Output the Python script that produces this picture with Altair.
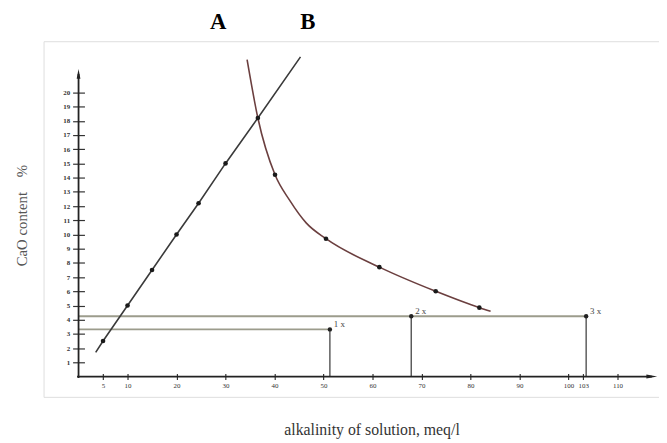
import altair as alt
import pandas as pd

# ---- data ----
# straight line A (ends + measured points)
a_line_x = [3.5, 5, 10, 15, 20, 24.5, 30, 36.6, 45.3]
a_line_y = [1.7, 2.5, 5.0, 7.5, 10.0, 12.2, 15.0, 18.2, 22.5]
a_dot_x = [5, 10, 15, 20, 24.5, 30, 36.6]
a_dot_y = [2.5, 5.0, 7.5, 10.0, 12.2, 15.0, 18.2]

# curve B
b_line_x = [34.4, 36.6, 40.1, 43.1, 46.5, 50.5, 61.4, 72.9, 81.8, 84.1]
b_line_y = [22.3, 18.2, 14.2, 12.4, 10.8, 9.7, 7.7, 6.0, 4.85, 4.6]
b_dot_x = [40.1, 50.5, 61.4, 72.9, 81.8]
b_dot_y = [14.2, 9.7, 7.7, 6.0, 4.85]

# construction lines (1x, 2x, 3x)
mark_x = [51.3, 67.9, 103.6]
mark_y = [3.32, 4.25, 4.25]
mark_label = ["1 x", "2 x", "3 x"]

# axis ticks
x_ticks = [5, 10, 20, 30, 40, 50, 60, 70, 80, 90, 100, 103, 110]
y_ticks = list(range(1, 21))

# drawn axis lines with arrows
axis_x_end = 117.0
axis_y_end = 21.3

x_domain = [-7.14, 118.47]
y_domain = [-1.43, 23.6]

SERIF = "Liberation Serif"
BG = "#fefbe0"

xs = alt.Scale(domain=x_domain, nice=False, zero=False)
ys = alt.Scale(domain=y_domain, nice=False, zero=False)

x_axis = alt.Axis(
    values=x_ticks, title="alkalinity of solution, meq/l", domain=False, grid=False,
    offset=-23.6, tickSize=6, tickColor="#333", tickWidth=1.2,
    labelFont=SERIF, labelFontSize=7, labelColor="#333", labelPadding=2,
    labelOverlap=False, labelFlush=False,
    titleFont=SERIF, titleFontSize=16, titleFontWeight="normal", titleColor="#333",
    titleX=332, titlePadding=34,
)
y_axis = alt.Axis(
    values=y_ticks, title="CaO content\u00a0\u00a0\u00a0\u00a0%", domain=False, grid=False,
    offset=-41.4, tickSize=12, tickColor="#333", tickWidth=1.2,
    labelFont=SERIF, labelFontSize=7, labelFontWeight="bold", labelColor="#333", labelPadding=3,
    labelOverlap=False, labelFlush=False,
    titleFont=SERIF, titleFontSize=15, titleFontWeight="normal", titleColor="#555",
    titlePadding=34, titleY=176,
)


def X(field="x"):
    return alt.X(f"{field}:Q", scale=xs, axis=x_axis)


def Y(field="y"):
    return alt.Y(f"{field}:Q", scale=ys, axis=y_axis)


# axis lines
axes_df = pd.DataFrame({
    "x": [0.0, -0.3], "x2": [0.0, axis_x_end],
    "y": [-0.1, 0.0], "y2": [axis_y_end, 0.0],
})
axes_rules = alt.Chart(axes_df).mark_rule(color="#222", strokeWidth=1.8).encode(
    x=X(), x2="x2:Q", y=Y(), y2="y2:Q"
)
arrow_up = alt.Chart(pd.DataFrame({"x": [0.0], "y": [axis_y_end]})).mark_point(
    shape="M0,-1L0.38,1L-0.38,1Z", size=100, filled=True, color="#222", opacity=1
).encode(x=X(), y=Y())
arrow_right = alt.Chart(pd.DataFrame({"x": [axis_x_end], "y": [0.0]})).mark_point(
    shape="M1,0L-1,0.38L-1,-0.38Z", size=121, filled=True, color="#222", opacity=1
).encode(x=X(), y=Y())

# horizontal construction lines
h_df = pd.DataFrame({"x": [0.0, 0.0], "x2": [mark_x[0], mark_x[2]], "y": [mark_y[0], mark_y[2]]})
h_rules = alt.Chart(h_df).mark_rule(color="#9c9c8c", strokeWidth=2).encode(
    x=X(), x2="x2:Q", y=Y()
)
v_df = pd.DataFrame({"x": mark_x, "y": [0.0] * 3, "y2": mark_y})
v_rules = alt.Chart(v_df).mark_rule(color="#444", strokeWidth=1.3).encode(
    x=X(), y=Y(), y2="y2:Q"
)
m_df = pd.DataFrame({"x": mark_x, "y": mark_y, "label": mark_label})
m_dots = alt.Chart(m_df).mark_circle(size=20, color="#222", opacity=1).encode(x=X(), y=Y())
m_text = alt.Chart(m_df).mark_text(
    font=SERIF, fontSize=9, color="#444", align="left", baseline="middle", dx=4, dy=-5
).encode(x=X(), y=Y(), text="label:N")

# line A
a_df = pd.DataFrame({"x": a_line_x, "y": a_line_y})
a_line = alt.Chart(a_df).mark_line(color="#3a3a3a", strokeWidth=1.6).encode(
    x=X(), y=Y(), order="x:Q"
)
a_dots = alt.Chart(pd.DataFrame({"x": a_dot_x, "y": a_dot_y})).mark_circle(
    size=22, color="#1a1a1a", opacity=1
).encode(x=X(), y=Y())

# curve B
b_df = pd.DataFrame({"x": b_line_x, "y": b_line_y})
b_line = alt.Chart(b_df).mark_line(
    color="#6b3f3f", strokeWidth=1.6, interpolate="monotone"
).encode(x=X(), y=Y(), order="x:Q")
b_dots = alt.Chart(pd.DataFrame({"x": b_dot_x, "y": b_dot_y})).mark_circle(
    size=22, color="#1a1a1a", opacity=1
).encode(x=X(), y=Y())

chart = alt.layer(
    h_rules, v_rules, axes_rules, arrow_up, arrow_right,
    a_line, b_line, a_dots, b_dots, m_dots, m_text,
).properties(
    width=623,
    height=360,
    autosize=alt.AutoSizeParams(type="none"),
    padding={"left": 36, "top": 31, "right": 0, "bottom": 40},
    title=alt.TitleParams(
        text="A" + "\u00a0" * 13 + "B",
        font=SERIF, fontSize=23, fontWeight="bold", color="#000",
        anchor="start", frame="group", dx=168.5, offset=-11, baseline="alphabetic",
    ),
).configure_view(
    fill=BG, stroke=None
).configure(background="white")

chart.save("out.html", embed_options={"renderer": "svg", "actions": False})
